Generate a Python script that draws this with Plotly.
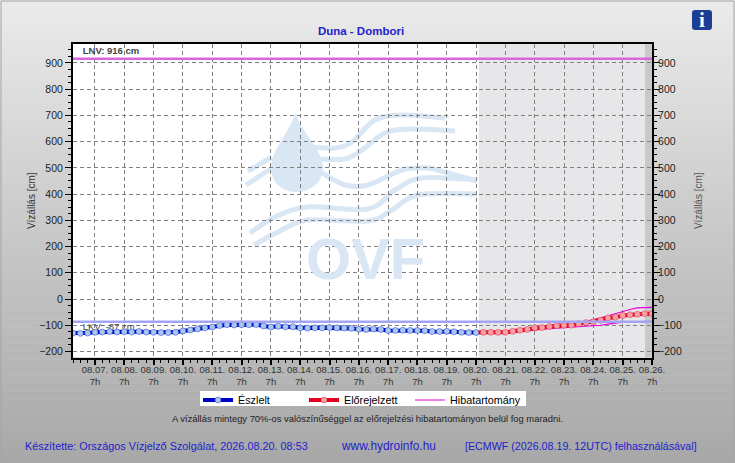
'''Duna - Dombori vizallas chart'''
import pandas as pd
import plotly.graph_objects as go

W, H = 735, 463

obs_values = [-130, -131, -130, -127,
              -126, -124, -126, -125,
              -126, -124, -126, -127,
              -128, -128, -127, -122,
              -118, -114, -110, -107,
              -101, -98, -99, -98,
              -98, -97, -103, -107,
              -104, -106, -106, -110,
              -111, -110, -110, -109,
              -110, -111, -112, -115,
              -116, -114, -116, -120,
              -120, -119, -120, -120,
              -121, -124, -124, -123,
              -125, -127, -128, -128]
fc_values = [-128, -127, -127, -127, -127, -123, -119, -116, -110, -109, -105, -102, -100,
             -100, -94, -90, -88, -81, -72, -70, -63, -60, -58, -56, -56]
upper_values = [-126, -125, -125, -125, -124, -120, -116, -112, -107, -105, -102, -99, -97,
                -95, -91, -85, -79, -72, -64, -56, -47, -40, -34, -33, -32]
lower_values = [-129, -129, -129, -129, -130, -128, -125, -121, -117, -115, -113, -111, -110,
                -108, -106, -105, -103, -100, -96, -92, -88, -87, -87, -86, -85]

lnv = 916
lkv = -87

tick_dates = ['2026-08-%02d 07:00' % d for d in range(7, 27)]
tick_labels = ['08.%02d.<br>7h' % d for d in range(7, 27)]
y_ticks = [-200, -100, 0, 100, 200, 300, 400, 500, 600, 700, 800, 900]

obs_times = pd.date_range('2026-08-06 13:00', '2026-08-20 07:00', freq='6h')
fc_times = [pd.Timestamp('2026-08-20 09:00')] + list(pd.date_range('2026-08-20 13:00', '2026-08-26 07:00', freq='6h'))

x_range = ['2026-08-06 13:00', '2026-08-26 07:00']
y_range = [-223, 972]

FONT = 'Liberation Sans'
BLUE_TEXT = '#2222cc'
WATER = '#d9e6f4'
GRID = '#808080'


def px(x, y):
    '''pixel position on the page to paper coordinates'''
    return x / W, 1 - y / H


def rect(x0, y0, x1, y1, fill, line=None):
    ax, ay = px(x0, y0)
    bx, by = px(x1, y1)
    return dict(type='rect', xref='paper', yref='paper', x0=ax, y0=ay, x1=bx, y1=by,
                fillcolor=fill, line=dict(width=0) if line is None else line, layer='below')


def smooth(points):
    '''catmull-rom through the points, as an svg path in paper coordinates'''
    p = [px(*q) for q in points]
    path = 'M %.5f,%.5f' % p[0]
    for i in range(len(p) - 1):
        a = p[max(i - 1, 0)]
        b = p[i]
        c = p[i + 1]
        d = p[min(i + 2, len(p) - 1)]
        c1 = (b[0] + (c[0] - a[0]) / 6, b[1] + (c[1] - a[1]) / 6)
        c2 = (c[0] - (d[0] - b[0]) / 6, c[1] - (d[1] - b[1]) / 6)
        path += ' C %.5f,%.5f %.5f,%.5f %.5f,%.5f' % (c1 + c2 + c)
    return path


def curve(points, width=5):
    return dict(type='path', xref='paper', yref='paper', path=smooth(points),
                line=dict(color=WATER, width=width), layer='below')


def bezier(cmds, fill):
    '''closed path from M/C commands given in pixels'''
    path = ''
    for cmd, pts in cmds:
        path += cmd + ' ' + ' '.join('%.5f,%.5f' % px(*q) for q in pts) + ' '
    return dict(type='path', xref='paper', yref='paper', path=path + 'Z',
                fillcolor=fill, line=dict(width=0), layer='below')


shapes = []

# page background, light at the top and darker at the bottom
bands = 58
for i in range(bands):
    g = round(234 - (234 - 168) * i / (bands - 1))
    shapes.append(rect(0, H * i / bands, W, H * (i + 1) / bands + 0.5, 'rgb(%d,%d,%d)' % (g, g, g)))
shapes.append(rect(1, 1, W - 1, H - 2, 'rgba(0,0,0,0)', dict(color='#a4a4a4', width=1)))

shapes.append(rect(73, 44, 652, 357.5, 'white'))
shapes.append(rect(479, 44, 652, 357.5, '#e7e7e9'))
shapes.append(rect(645, 44, 652, 357.5, '#c9c9c9'))
shapes.append(rect(200, 391, 526, 406, 'white'))

# OVF logo behind the grid
shapes.append(bezier([('M', [(295.5, 113)]),
                      ('C', [(288, 135), (271, 150), (271, 168)]),
                      ('C', [(271, 183), (283, 192), (296, 192)]),
                      ('C', [(310, 192), (323, 183), (323, 168)]),
                      ('C', [(323, 150), (303, 135), (295.5, 113)])], WATER))
shapes.append(curve([(312, 147), (335, 148), (352, 142), (375, 120), (402, 115), (445, 118)]))
shapes.append(curve([(318, 159), (345, 159), (362, 150), (385, 133), (412, 129), (455, 131)]))
shapes.append(curve([(322, 173), (345, 185), (368, 185), (402, 170), (428, 168), (448, 173), (477, 181)]))
shapes.append(curve([(250, 233), (275, 217), (308, 207), (368, 209), (395, 190), (422, 178), (477, 180)]))
shapes.append(curve([(254, 245), (278, 232), (308, 220), (368, 221), (392, 210), (418, 195), (477, 194)]))
shapes.append(curve([(248, 171), (272, 157)]))
shapes.append(curve([(246, 185), (272, 168)]))

# info button
shapes.append(bezier([('M', [(695, 10)]), ('L', [(709, 10)]),
                      ('C', [(711, 10), (712, 11), (712, 13)]), ('L', [(712, 27)]),
                      ('C', [(712, 29), (711, 30), (709, 30)]), ('L', [(695, 30)]),
                      ('C', [(693, 30), (692, 29), (692, 27)]), ('L', [(692, 13)]),
                      ('C', [(692, 11), (693, 10), (695, 10)])], '#1c3f94'))

fig = go.Figure()

fig.add_trace(go.Scatter(x=['2026-08-06 21:00', '2026-08-06 21:00'], y=[944, -109],
                         mode='text', text=['<b>LNV: 916 cm</b>', 'LKV: -87 cm'],
                         textposition='middle right', textfont=dict(family=FONT, size=9.5, color='#444444'),
                         showlegend=False, hoverinfo='skip'))

fig.add_trace(go.Scatter(x=fc_times, y=upper_values, mode='lines', name='Hibatartomány',
                         legend='legend3', line=dict(color='#e000d8', width=1.2)))
fig.add_trace(go.Scatter(x=fc_times, y=lower_values, mode='lines', showlegend=False,
                         line=dict(color='#e000d8', width=1.2)))
fig.add_trace(go.Scatter(x=obs_times, y=obs_values, mode='lines+markers', name='Észlelt',
                         legend='legend',
                         line=dict(color='#0000c8', width=4),
                         marker=dict(symbol='circle', size=6, color='#a8c8f0',
                                     line=dict(color='#2040d0', width=0.5))))
fig.add_trace(go.Scatter(x=fc_times[:2], y=fc_values[:2], mode='lines', showlegend=False,
                         line=dict(color='#e4001c', width=4)))
fig.add_trace(go.Scatter(x=fc_times[1:], y=fc_values[1:], mode='lines+markers', name='Előrejelzett',
                         legend='legend2',
                         line=dict(color='#e4001c', width=4),
                         marker=dict(symbol='circle', size=6, color='#f4a0a8',
                                     line=dict(color='#e83040', width=0.5))))

# threshold lines sit on the right axis so that it gets drawn
fig.add_trace(go.Scatter(x=x_range, y=[lnv, lnv], mode='lines', yaxis='y2', showlegend=False,
                         line=dict(color='#d966dc', width=2.5)))
fig.add_trace(go.Scatter(x=x_range, y=[lkv, lkv], mode='lines', yaxis='y2', showlegend=False,
                         line=dict(color='#a4a4f4', width=2.5)))

y_common = dict(range=y_range, tickmode='array', tickvals=y_ticks, ticks='outside', ticklen=6,
                tickwidth=1, tickcolor='black', showline=True, linecolor='black', linewidth=2,
                tickfont=dict(family=FONT, size=10.5, color='#222222'), zeroline=False,
                minor=dict(tickmode='linear', tick0=0, dtick=25, ticks='outside', ticklen=3,
                           tickcolor='black', tickwidth=1, showgrid=False))


def legend_at(x):
    return dict(orientation='h', x=x / W, y=1 - 385.5 / H, xanchor='left', yanchor='top',
                bgcolor='rgba(0,0,0,0)', borderwidth=0,
                font=dict(family=FONT, size=10.8, color='black'), itemclick=False, itemdoubleclick=False)


fig.update_layout(
    width=W, height=H, autosize=False,
    margin=dict(l=0, r=0, t=0, b=0, pad=0, autoexpand=False),
    paper_bgcolor='rgba(0,0,0,0)',
    plot_bgcolor='rgba(0,0,0,0)',
    font=dict(family=FONT),
    title=dict(text='<b>Duna - Dombori</b>', x=361 / W, y=1 - 31 / H, xanchor='center', yanchor='middle',
               xref='paper', yref='paper', font=dict(family=FONT, size=11.5, color=BLUE_TEXT)),
    xaxis=dict(type='date', range=x_range, domain=[73 / W, 652 / W],
               tickmode='array', tickvals=tick_dates, ticktext=tick_labels, tickangle=0,
               ticks='outside', ticklen=5, tickwidth=2, tickcolor='black', ticklabelstandoff=-3,
               showline=True, mirror=True, linecolor='black', linewidth=2,
               tickfont=dict(family=FONT, size=9.5, color='#333333'),
               showgrid=True, gridcolor=GRID, griddash='4px,3px', gridwidth=1, zeroline=False,
               minor=dict(tickmode='linear', tick0='2026-08-07 01:00', dtick=21600000, ticks='outside',
                          ticklen=3, tickcolor='black', tickwidth=1, showgrid=False)),
    yaxis=dict(domain=[1 - 357.5 / H, 1 - 44 / H], showgrid=True, gridcolor=GRID, griddash='4px,3px',
               gridwidth=1,
               title=dict(text='Vízállás [cm]', standoff=2, font=dict(family=FONT, size=10, color='#333333')),
               **y_common),
    yaxis2=dict(overlaying='y', side='right', anchor='x', showgrid=False, ticklabelstandoff=-4,
                title=dict(text='Vízállás [cm]', standoff=14, font=dict(family=FONT, size=10, color='#555555')),
                **y_common),
    legend=legend_at(198),
    legend2=legend_at(304),
    legend3=legend_at(410),
    shapes=shapes,
)


def note(x, y, text, size, color, anchor='left', family=FONT):
    ax, ay = px(x, y)
    fig.add_annotation(x=ax, y=ay, xref='paper', yref='paper', text=text, showarrow=False,
                       xanchor=anchor, yanchor='middle', font=dict(family=family, size=size, color=color))


note(365, 258, '<b>OVF</b>', 58, WATER, 'center')
note(702, 20, '<b>i</b>', 21, 'white', 'center', 'Liberation Serif')
note(367, 418, 'A vízállás mintegy 70%-os valószínűséggel az előrejelzési hibatartományon belül fog maradni.',
     9.4, '#222222', 'center')
note(23, 445.5, 'Készítette: Országos Vízjelző Szolgálat, 2026.08.20. 08:53', 10.85, BLUE_TEXT)
note(339, 445.5, 'www.hydroinfo.hu', 11.9, BLUE_TEXT)
note(463, 445.5, '[ECMWF (2026.08.19. 12UTC) felhasználásával]', 10.7, BLUE_TEXT)

fig.write_html('out.html', config=dict(responsive=False, displayModeBar=False),
               post_script="document.body.style.margin='0';document.body.style.overflow='hidden';")
